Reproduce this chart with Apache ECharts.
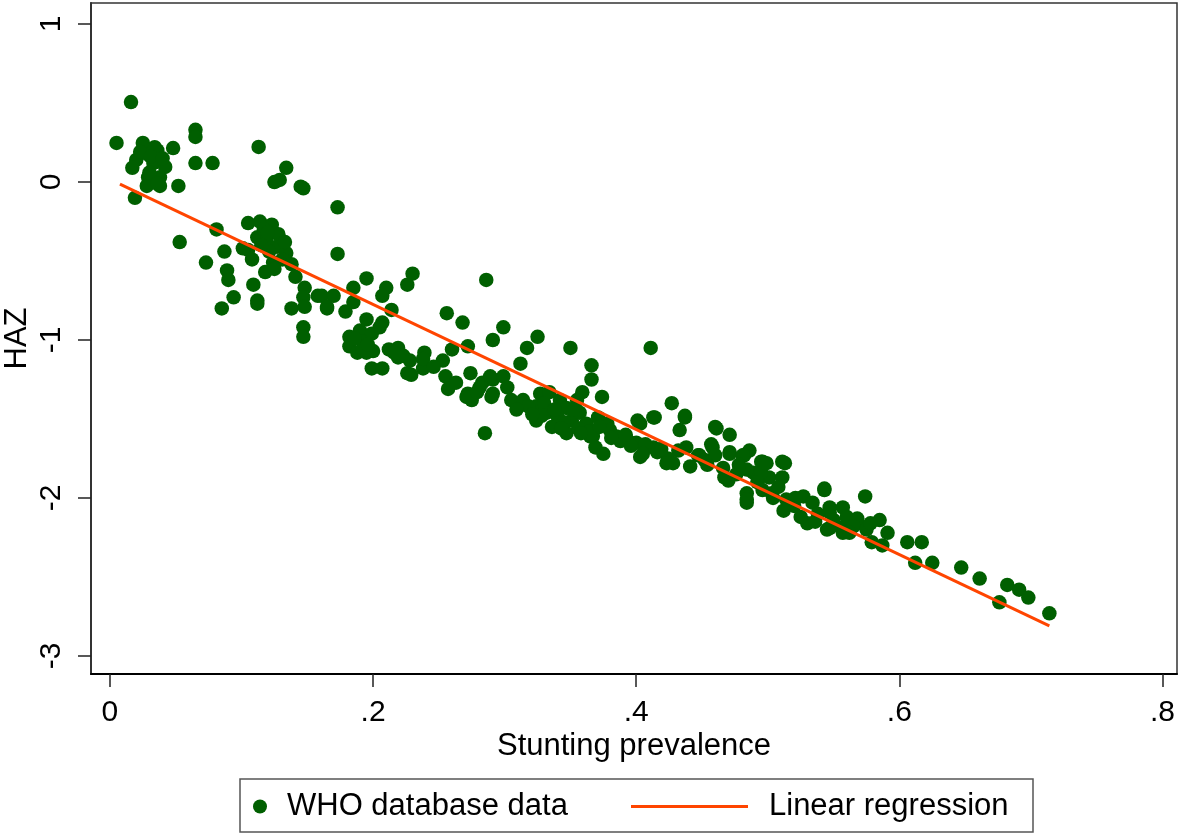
<!DOCTYPE html>
<html>
<head>
<meta charset="utf-8">
<script src="https://cdn.jsdelivr.net/npm/echarts@6/dist/echarts.min.js"></script>
<style>html,body{margin:0;padding:0;background:#fff}#c{width:1180px;height:834px}</style>
</head>
<body>
<div id="c"></div>
<script>
// Stunting prevalence (x) vs HAZ (y), WHO database points
const whoData = [
[0.016,0.506],[0.005,0.247],[0.025,0.247],[0.028,0.18],[0.036,0.20],[0.048,0.215],[0.020,0.14],[0.033,0.12],[0.042,0.095],[0.017,0.09],[0.029,0.03],[0.038,0.03],[0.028,-0.025],[0.038,-0.025],[0.052,-0.025],[0.019,-0.10],[0.065,0.33],[0.065,0.285],[0.065,0.12],[0.078,0.12],[0.113,0.222],[0.134,0.09],[0.129,0.013],[0.125,0.0],[0.145,-0.03],
[0.023,0.19],[0.034,0.22],[0.030,0.06],[0.036,-0.01],[0.031,0.16],[0.040,0.15],
[0.053,-0.38],[0.081,-0.30],[0.087,-0.44],[0.073,-0.51],[0.089,-0.56],[0.090,-0.62],[0.094,-0.73],[0.085,-0.80],[0.105,-0.43],[0.108,-0.49],[0.109,-0.65],[0.112,-0.75],[0.105,-0.26],[0.114,-0.25],[0.123,-0.27],[0.112,-0.35],[0.119,-0.37],[0.127,-0.41],[0.134,-0.45],[0.124,-0.51],[0.118,-0.57],[0.141,-0.60],[0.148,-0.67],[0.138,-0.80],[0.147,-0.73],[0.147,-0.92],[0.158,-0.72],[0.173,-0.16],[0.173,-0.455],[0.147,-0.04],
[0.117,-0.30],[0.128,-0.33],[0.121,-0.44],[0.131,-0.49],[0.115,-0.40],[0.125,-0.55],[0.101,-0.42],
[0.195,-0.61],[0.185,-0.67],[0.230,-0.58],[0.226,-0.65],[0.210,-0.67],[0.207,-0.72],[0.161,-0.72],[0.170,-0.72],[0.165,-0.79],[0.148,-0.79],[0.147,-0.98],[0.185,-0.76],[0.179,-0.82],[0.214,-0.81],[0.286,-0.62],[0.256,-0.83],[0.268,-0.89],[0.291,-1.00],[0.272,-1.04],[0.260,-1.06],
[0.195,-0.87],[0.207,-0.89],[0.190,-0.94],[0.199,-0.96],[0.182,-0.98],[0.192,-1.01],[0.182,-1.04],[0.195,-1.08],[0.188,-1.08],[0.199,-1.18],[0.207,-1.18],[0.219,-1.05],[0.223,-1.10],[0.228,-1.13],[0.239,-1.08],[0.226,-1.21],[0.238,-1.18],[0.253,-1.13],[0.255,-1.23],[0.257,-1.31],[0.274,-1.21],[0.272,-1.34],[0.283,-1.27],[0.291,-1.25],[0.291,-1.34],[0.275,-1.38],
[0.112,-0.77],[0.165,-0.80],[0.205,-0.92],[0.192,-1.06],[0.200,-1.07],[0.229,-1.22],[0.238,-1.12],[0.212,-1.06],[0.219,-1.11],
[0.299,-0.92],[0.325,-0.98],[0.317,-1.05],[0.350,-1.05],[0.411,-1.05],[0.312,-1.15],[0.366,-1.16],[0.366,-1.25],[0.359,-1.33],[0.374,-1.36],[0.289,-1.23],[0.299,-1.23],[0.302,-1.30],[0.281,-1.30],[0.271,-1.36],[0.290,-1.36],[0.305,-1.38],[0.314,-1.38],[0.285,-1.59],[0.327,-1.34],[0.334,-1.33],[0.324,-1.42],[0.332,-1.46],[0.324,-1.51],[0.336,-1.55],[0.342,-1.38],[0.347,-1.43],[0.351,-1.51],[0.347,-1.59],[0.355,-1.38],[0.357,-1.46],[0.362,-1.53],[0.367,-1.61],[0.369,-1.68],[0.375,-1.72],[0.371,-1.49],[0.378,-1.53],[0.380,-1.57],[0.385,-1.61],[0.393,-1.63],[0.401,-1.51],[0.413,-1.49],[0.403,-1.74],[0.413,-1.68],[0.400,-1.65],
[0.330,-1.40],[0.340,-1.48],[0.345,-1.52],[0.318,-1.42],[0.356,-1.56],[0.364,-1.58],[0.388,-1.64],[0.396,-1.67],[0.338,-1.44],[0.328,-1.48],[0.352,-1.44],[0.372,-1.55],
[0.427,-1.40],[0.437,-1.48],[0.460,-1.55],[0.471,-1.60],[0.486,-1.70],[0.513,-1.78],[0.458,-1.68],[0.433,-1.57],[0.461,-1.56],[0.407,-1.66],[0.424,-1.75],[0.438,-1.68],[0.447,-1.73],[0.441,-1.80],[0.457,-1.66],[0.471,-1.71],[0.482,-1.73],[0.466,-1.81],[0.476,-1.85],[0.470,-1.89],[0.496,-1.77],[0.511,-1.77],[0.489,-1.84],[0.501,-1.87],[0.484,-1.97],[0.484,-2.03],[0.496,-1.95],[0.504,-2.00],[0.517,-2.03],[0.527,-1.99],[0.543,-1.94],[0.534,-2.03],[0.530,-2.16],[0.547,-2.06],[0.545,-2.20],[0.557,-2.06],[0.556,-2.19],[0.560,-2.12],
[0.414,-1.49],[0.437,-1.49],[0.403,-1.53],[0.416,-1.71],[0.428,-1.78],[0.460,-1.73],[0.511,-1.87],[0.568,-2.16],[0.471,-1.72],[0.481,-1.73],[0.495,-1.77],[0.448,-1.73],[0.454,-1.79],[0.467,-1.87],[0.484,-2.01],[0.503,-1.97],[0.495,-1.84],[0.514,-2.01],[0.543,-1.95],[0.547,-2.09],[0.547,-2.19],[0.499,-1.78],[0.484,-1.82],[0.423,-1.78],[0.405,-1.72],[0.365,-1.61],
[0.557,-2.22],[0.574,-1.99],[0.568,-2.13],[0.585,-2.14],[0.591,-2.22],[0.579,-2.28],[0.587,-2.30],[0.606,-2.28],[0.617,-2.28],[0.612,-2.41],[0.625,-2.41],[0.647,-2.44],[0.661,-2.51],[0.682,-2.55],[0.691,-2.58],[0.698,-2.63],[0.676,-2.66],[0.714,-2.73],
[0.520,-2.05],[0.538,-2.10],[0.550,-2.14],[0.565,-2.18],[0.575,-2.20],[0.512,-2.08],[0.525,-2.12],
[0.133,-0.38],[0.138,-0.52],[0.120,-0.32],[0.186,-0.99],[0.196,-1.03],[0.216,-1.08],[0.246,-1.17],[0.263,-1.27],[0.279,-1.33],[0.309,-1.44],[0.321,-1.47],[0.343,-1.56],[0.358,-1.59],[0.381,-1.62],[0.392,-1.60],[0.419,-1.69],[0.432,-1.70],[0.452,-1.76],[0.478,-1.79],[0.492,-1.90],[0.508,-1.93],[0.521,-2.00],[0.536,-2.15],[0.562,-2.22],[0.578,-2.16]
];
// Linear regression fit (endpoints)
const regressionLine = [[0.0076,-0.013],[0.714,-2.81]];
const xTicks = [0, 0.2, 0.4, 0.6, 0.8];
const yTicks = [-3, -2, -1, 0, 1];
const seriesNames = ['WHO database data', 'Linear regression'];

const FONT = '"Liberation Sans", Arial, sans-serif';
const chart = echarts.init(document.getElementById('c'), null, {renderer: 'canvas'});
chart.setOption({
  animation: false,
  backgroundColor: '#fff',
  textStyle: {fontFamily: FONT},
  grid: {left: 91, top: 3, right: 3, bottom: 160, outerBoundsMode: 'none', containLabel: false,
         show: true, borderColor: '#333', borderWidth: 1.5, backgroundColor: '#fff'},
  xAxis: {
    type: 'value', min: -0.0144, max: 0.811,
    name: 'Stunting prevalence', nameLocation: 'middle', nameGap: 57, nameMoveOverlap: false,
    nameTextStyle: {fontSize: 31, color: '#000', fontFamily: FONT},
    axisLine: {show: true, onZero: false, lineStyle: {color: '#000', width: 2}},
    axisTick: {show: true, customValues: xTicks, length: 13, lineStyle: {color: '#222', width: 1.5}},
    axisLabel: {customValues: xTicks, fontSize: 30, color: '#000', margin: 24, fontFamily: FONT,
      formatter: v => v === 0 ? '0' : String(+v.toFixed(1)).replace(/^0\./, '.').replace(/^-0\./, '-.')},
    splitLine: {show: false}
  },
  yAxis: {
    type: 'value', min: -3.114, max: 1.133,
    name: 'HAZ', nameLocation: 'middle', nameGap: 58, nameMoveOverlap: false,
    nameTextStyle: {fontSize: 31, color: '#000', fontFamily: FONT},
    axisLine: {show: true, onZero: false, lineStyle: {color: '#333', width: 2}},
    axisTick: {show: true, customValues: yTicks, length: 13, lineStyle: {color: '#222', width: 1.5}},
    axisLabel: {customValues: yTicks, fontSize: 30, color: '#000', margin: 24, rotate: 90, fontFamily: FONT,
      formatter: v => String(v)},
    splitLine: {show: false}
  },
  legend: [
    {data: [seriesNames[0]], left: 253, top: 791, padding: 0, itemWidth: 14, itemHeight: 14,
     textStyle: {fontSize: 31, color: '#000', fontFamily: FONT, padding: [0,0,0,15]}},
    {data: [{name: seriesNames[1], icon: 'rect'}], left: 631, top: 791, padding: 0, itemWidth: 117, itemHeight: 3,
     textStyle: {fontSize: 31, color: '#000', fontFamily: FONT, padding: [0,0,0,16]}}
  ],
  graphic: [{type: 'rect', shape: {x: 240, y: 779, width: 793, height: 53},
    style: {fill: 'none', stroke: '#555', lineWidth: 1.5}, silent: true, z: -1}],
  series: [
    {name: seriesNames[0], type: 'scatter', data: whoData, symbol: 'circle', symbolSize: 14.5,
     itemStyle: {color: '#005f00', opacity: 1}, z: 2},
    {name: seriesNames[1], type: 'line', data: regressionLine, symbol: 'none', showSymbol: false,
     lineStyle: {color: '#ff4500', width: 3}, itemStyle: {color: '#ff4500'}, z: 3}
  ]
});
</script>
</body>
</html>
